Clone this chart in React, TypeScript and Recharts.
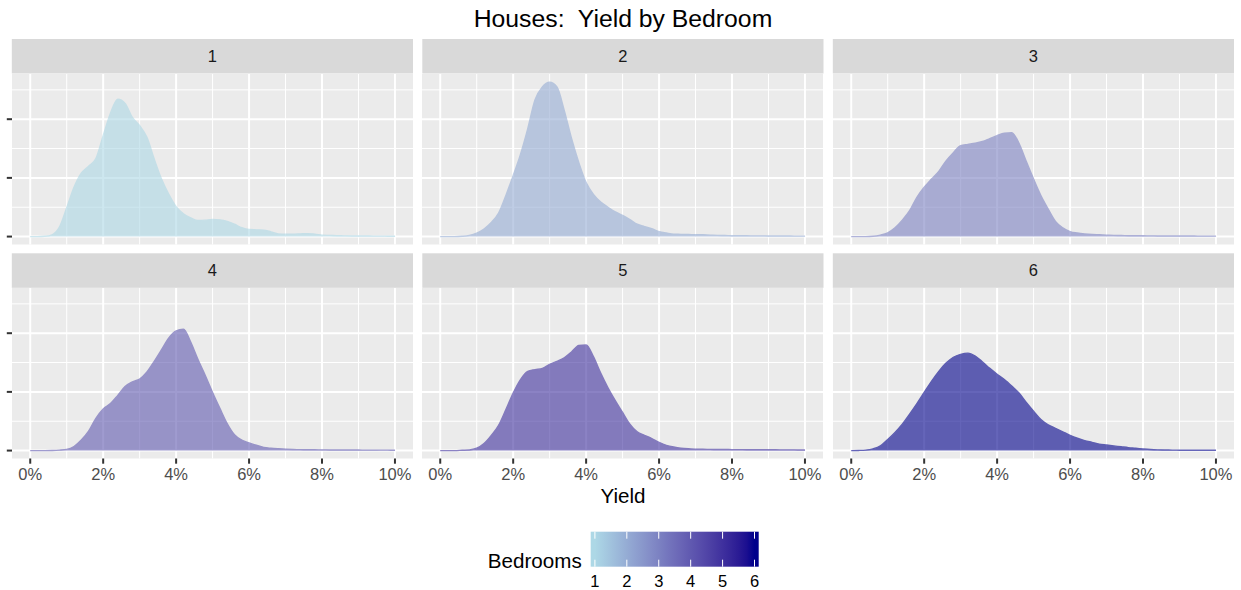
import React from 'react';
import { AreaChart, Area, XAxis, YAxis, CartesianGrid } from 'recharts';

// yield grid (percent) shared by all panels
const yieldPct = [
  0, 0.2, 0.4, 0.6, 0.8, 1, 1.2, 1.4, 1.6, 1.8, 2, 2.2, 2.4, 2.6, 2.8, 3, 3.2, 3.4, 3.6, 3.8,
  4, 4.2, 4.4, 4.6, 4.8, 5, 5.2, 5.4, 5.6, 5.8, 6, 6.2, 6.4, 6.6, 6.8, 7, 7.2, 7.4, 7.6, 7.8,
  8, 8.2, 8.4, 8.6, 8.8, 9, 9.2, 9.4, 9.6, 9.8, 10,
];

const bedrooms = [1, 2, 3, 4, 5, 6];

const density1 = [
  0, 0, 0.05, 0.3, 1.6, 4.9, 8.4, 10.8, 12.0, 13.3, 17.2, 21.0, 23.4, 22.7, 20.3, 18.9, 16.9, 13.2, 9.8, 7.2,
  5.1, 3.9, 3.2, 2.75, 2.8, 2.9, 2.85, 2.6, 2.1, 1.5, 1.2, 1.15, 1.1, 0.8, 0.45, 0.4, 0.4, 0.45, 0.5, 0.4,
  0.25, 0.2, 0.15, 0.12, 0.1, 0.1, 0.1, 0.08, 0.08, 0.06, 0.05,
];
const density2 = [
  0, 0, 0, 0.05, 0.2, 0.6, 1.3, 2.4, 4.0, 7.0, 10.4, 14.0, 18.4, 23.3, 25.5, 26.3, 25.5, 21.5, 16.7, 12.6,
  9.2, 7.2, 5.9, 5.0, 4.2, 3.6, 2.9, 2.1, 1.7, 1.35, 0.85, 0.6, 0.4, 0.38, 0.35, 0.33, 0.3, 0.25, 0.2, 0.18,
  0.15, 0.14, 0.13, 0.12, 0.12, 0.11, 0.1, 0.1, 0.09, 0.08, 0.07,
];
const density3 = [
  0, 0, 0, 0.05, 0.25, 0.65, 1.5, 2.8, 4.4, 6.7, 8.4, 9.8, 11.1, 12.9, 14.3, 15.5, 15.7, 15.9, 16.2, 16.7,
  17.2, 17.6, 17.7, 15.9, 12.8, 9.8, 7.0, 4.7, 2.6, 1.5, 0.85, 0.6, 0.45, 0.35, 0.3, 0.25, 0.2, 0.18, 0.15, 0.14,
  0.13, 0.12, 0.11, 0.1, 0.1, 0.1, 0.09, 0.09, 0.08, 0.08, 0.07,
];
const density4 = [
  0, 0, 0, 0.02, 0.08, 0.2, 0.7, 1.8, 3.3, 5.5, 7.1, 8.0, 9.4, 10.9, 11.7, 12.2, 13.4, 15.2, 17.2, 19.2,
  20.4, 20.7, 18.5, 15.5, 12.8, 9.9, 7.2, 4.6, 2.7, 1.8, 1.3, 0.9, 0.55, 0.4, 0.3, 0.22, 0.18, 0.16, 0.14, 0.13,
  0.12, 0.11, 0.1, 0.1, 0.09, 0.09, 0.08, 0.08, 0.07, 0.07, 0.06,
];
const density5 = [
  0, 0, 0, 0.05, 0.1, 0.4, 1.2, 2.6, 4.3, 7.0, 9.8, 12.1, 13.5, 13.8, 14.0, 14.7, 15.2, 15.8, 16.8, 17.9,
  18.0, 16.0, 13.2, 10.7, 8.5, 6.5, 4.5, 3.2, 2.6, 2.05, 1.4, 0.9, 0.6, 0.4, 0.3, 0.25, 0.22, 0.2, 0.19, 0.18,
  0.17, 0.16, 0.15, 0.15, 0.15, 0.14, 0.13, 0.12, 0.12, 0.11, 0.1,
];
const density6 = [
  0, 0.02, 0.08, 0.3, 0.8, 1.9, 3.1, 4.5, 6.2, 8.0, 9.9, 11.8, 13.5, 14.9, 15.9, 16.4, 16.6, 16.1, 15.1, 14.0,
  13.0, 12.1, 11.0, 9.8, 8.2, 6.7, 5.3, 4.4, 3.8, 3.2, 2.6, 2.1, 1.7, 1.4, 1.1, 0.95, 0.8, 0.65, 0.5, 0.4,
  0.28, 0.18, 0.12, 0.1, 0.08, 0.06, 0.05, 0.05, 0.05, 0.05, 0.05,
];

const densities = [density1, density2, density3, density4, density5, density6];

const xTicks = [0, 1, 2, 3, 4, 5, 6, 7, 8, 9, 10];
const yTicks = [0, 5, 10, 15, 20, 25];

const tableData = yieldPct.map((x, i) => {
  const row: any = { x };
  bedrooms.forEach((b, k) => {
    row['b' + b] = densities[k][i];
  });
  return row;
});

// colour ramp lightblue -> darkblue interpolated in CIELAB (like scale_fill_gradient)
const LOW = [173, 216, 230];
const HIGH = [0, 0, 139];
const WHITE = [0.95047, 1, 1.08883];

function toLab(rgb: number[]) {
  const lin = rgb.map((c) => {
    const v = c / 255;
    return v <= 0.04045 ? v / 12.92 : Math.pow((v + 0.055) / 1.055, 2.4);
  });
  const X = 0.4124564 * lin[0] + 0.3575761 * lin[1] + 0.1804375 * lin[2];
  const Y = 0.2126729 * lin[0] + 0.7151522 * lin[1] + 0.072175 * lin[2];
  const Z = 0.0193339 * lin[0] + 0.119192 * lin[1] + 0.9503041 * lin[2];
  const f = (t: number) => (t > Math.pow(6 / 29, 3) ? Math.cbrt(t) : t / (3 * Math.pow(6 / 29, 2)) + 4 / 29);
  const fx = f(X / WHITE[0]);
  const fy = f(Y / WHITE[1]);
  const fz = f(Z / WHITE[2]);
  return [116 * fy - 16, 500 * (fx - fy), 200 * (fy - fz)];
}

function fromLab(lab: number[]) {
  const fy = (lab[0] + 16) / 116;
  const fx = fy + lab[1] / 500;
  const fz = fy - lab[2] / 200;
  const inv = (t: number) => (t > 6 / 29 ? t * t * t : 3 * Math.pow(6 / 29, 2) * (t - 4 / 29));
  const X = inv(fx) * WHITE[0];
  const Y = inv(fy) * WHITE[1];
  const Z = inv(fz) * WHITE[2];
  const lin = [
    3.2404542 * X - 1.5371385 * Y - 0.4985314 * Z,
    -0.969266 * X + 1.8760108 * Y + 0.041556 * Z,
    0.0556434 * X - 0.2040259 * Y + 1.0572252 * Z,
  ];
  const hex = lin
    .map((c) => {
      const v = c <= 0.0031308 ? 12.92 * c : 1.055 * Math.pow(c, 1 / 2.4) - 0.055;
      const n = Math.round(Math.min(1, Math.max(0, v)) * 255);
      return n.toString(16).padStart(2, '0');
    })
    .join('');
  return '#' + hex;
}

const labLow = toLab(LOW);
const labHigh = toLab(HIGH);
const ramp = (t: number) => fromLab(labLow.map((v, i) => v + (labHigh[i] - v) * t));
const fillFor = (b: number) => ramp((b - 1) / 5);

const FONT = '"Liberation Sans", Arial, Helvetica, sans-serif';

const PANEL_W = 401.2;
const PLOT_H = 170.5;
const STRIP_H = 34.5;
const COL_LEFT = [11.8, 422.3, 832.8];
const ROW_TOP = [39, 253.3];
const Y_AXIS_W = 12;
const X_AXIS_H = 30;

const gridLine = (props: any) => {
  const { x1, y1, x2, y2, index } = props;
  return (
    <line
      key={`g-${index}-${x1}-${y1}`}
      x1={x1}
      y1={y1}
      x2={x2}
      y2={y2}
      stroke="#FFFFFF"
      strokeWidth={index % 2 === 0 ? 2 : 1}
    />
  );
};

function Panel({ bed, row, col }: { bed: number; row: number; col: number }) {
  const colour = fillFor(bed);
  const showX = row === 1;
  const showY = col === 0;
  return (
    <div
      style={{
        position: 'absolute',
        left: COL_LEFT[col] - Y_AXIS_W,
        top: ROW_TOP[row] + STRIP_H,
      }}
    >
      <AreaChart
        width={PANEL_W + Y_AXIS_W}
        height={PLOT_H + X_AXIS_H}
        data={tableData}
        margin={{ top: 0, right: 0, bottom: 0, left: 0 }}
      >
        <CartesianGrid
          fill="#EBEBEB"
          fillOpacity={1}
          syncWithTicks
          horizontal={gridLine}
          vertical={gridLine}
        />
        <XAxis
          dataKey="x"
          type="number"
          domain={[-0.5, 10.5]}
          ticks={xTicks}
          interval={0}
          allowDataOverflow
          height={X_AXIS_H}
          axisLine={false}
          tickLine={false}
          tickSize={0}
          tickMargin={0}
          tick={(p: any) => {
            const v = p.payload.value;
            if (!showX || v % 2 !== 0) return <g key={`xt-${v}`} />;
            return (
              <g key={`xt-${v}`}>
                <line x1={p.x} x2={p.x} y1={p.y} y2={p.y + 5.2} stroke="#333333" strokeWidth={2} />
                <text
                  x={p.x}
                  y={p.y + 21.7}
                  textAnchor="middle"
                  fontSize={16.5}
                  fontFamily={FONT}
                  fill="#4D4D4D"
                >
                  {`${v}%`}
                </text>
              </g>
            );
          }}
        />
        <YAxis
          type="number"
          domain={[-1.35, 27.7]}
          ticks={yTicks}
          interval={0}
          allowDataOverflow
          width={Y_AXIS_W}
          axisLine={false}
          tickLine={false}
          tickSize={0}
          tickMargin={0}
          tick={(p: any) => {
            const v = p.payload.value;
            if (!showY || v % 10 !== 0) return <g key={`yt-${v}`} />;
            return (
              <line
                key={`yt-${v}`}
                x1={p.x - 5.2}
                x2={p.x}
                y1={p.y}
                y2={p.y}
                stroke="#333333"
                strokeWidth={2}
              />
            );
          }}
        />
        <Area
          className="dens-area"
          type="monotone"
          dataKey={'b' + bed}
          baseValue={0}
          fill={colour}
          fillOpacity={1}
          stroke={colour}
          strokeWidth={1.4}
          isAnimationActive={false}
          dot={false}
          activeDot={false}
        />
      </AreaChart>
    </div>
  );
}

// colour bar geometry
const BAR_X = 590.7;
const BAR_Y = 531.7;
const BAR_W = 168;
const BAR_H = 35;
const barPos = (b: number) => BAR_X + BAR_W * (0.025 + 0.95 * ((b - 1) / 5));
const barStops = Array.from({ length: 21 }, (_, k) => k / 20);

export default function App() {
  return (
    <div
      style={{
        position: 'absolute',
        left: 0,
        top: 0,
        width: 1241,
        height: 590,
        background: '#FFFFFF',
        fontFamily: FONT,
        overflow: 'hidden',
      }}
    >
      <style>{'.dens-area { opacity: 0.6; }'}</style>
      <svg width={1241} height={590} style={{ position: 'absolute', left: 0, top: 0 }}>
        <defs>
          <linearGradient id="bedGrad" x1="0" y1="0" x2="1" y2="0">
            {barStops.map((t) => (
              <stop key={t} offset={0.025 + 0.95 * t} stopColor={ramp(t)} />
            ))}
          </linearGradient>
        </defs>
        <text x={623} y={27.3} textAnchor="middle" fontSize={24.75} fontFamily={FONT} fill="#000000">
          {'Houses:\u00A0 Yield by Bedroom'}
        </text>
        {bedrooms.map((b, i) => {
          const row = Math.floor(i / 3);
          const col = i % 3;
          return (
            <g key={b}>
              <rect x={COL_LEFT[col]} y={ROW_TOP[row]} width={PANEL_W} height={STRIP_H} fill="#D9D9D9" />
              <text
                x={COL_LEFT[col] + PANEL_W / 2}
                y={ROW_TOP[row] + STRIP_H / 2 + 5.9}
                textAnchor="middle"
                fontSize={16.5}
                fontFamily={FONT}
                fill="#1A1A1A"
              >
                {b}
              </text>
            </g>
          );
        })}
        <text x={623} y={503.3} textAnchor="middle" fontSize={20.6} fontFamily={FONT} fill="#000000">
          Yield
        </text>
        <text x={581.7} y={568.3} textAnchor="end" fontSize={20.6} fontFamily={FONT} fill="#000000">
          Bedrooms
        </text>
        <rect x={BAR_X} y={BAR_Y} width={BAR_W} height={BAR_H} fill="url(#bedGrad)" />
        {bedrooms.map((b) => (
          <g key={'lt' + b}>
            <line x1={barPos(b)} x2={barPos(b)} y1={BAR_Y} y2={BAR_Y + BAR_H / 5} stroke="#FFFFFF" strokeWidth={1} />
            <line
              x1={barPos(b)}
              x2={barPos(b)}
              y1={BAR_Y + BAR_H - BAR_H / 5}
              y2={BAR_Y + BAR_H}
              stroke="#FFFFFF"
              strokeWidth={1}
            />
            <text x={barPos(b)} y={586.7} textAnchor="middle" fontSize={16.5} fontFamily={FONT} fill="#000000">
              {b}
            </text>
          </g>
        ))}
      </svg>
      {bedrooms.map((b, i) => (
        <Panel key={b} bed={b} row={Math.floor(i / 3)} col={i % 3} />
      ))}
    </div>
  );
}
